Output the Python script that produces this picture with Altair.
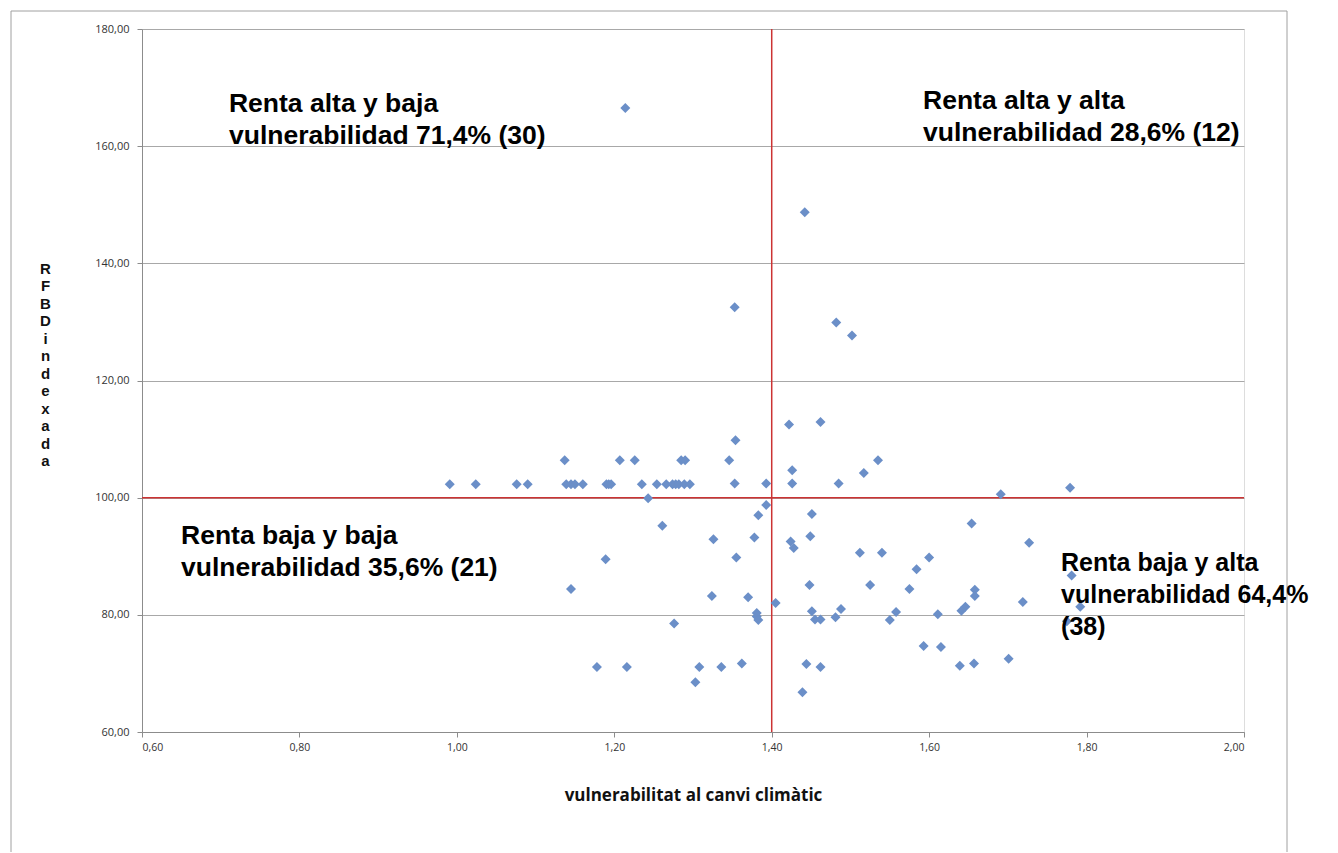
import altair as alt
import pandas as pd

# ---- data ----
vuln = [
    # renta alta / baja vulnerabilidad
    1.214, 1.353, 1.137, 1.207, 1.226, 1.285, 1.290, 1.346, 1.354,
    0.991, 1.024, 1.076, 1.090, 1.139, 1.145, 1.150, 1.160, 1.190, 1.193, 1.196,
    1.235, 1.254, 1.266, 1.274, 1.278, 1.282, 1.289, 1.296, 1.353, 1.393,
    # renta alta / alta vulnerabilidad
    1.442, 1.482, 1.502, 1.422, 1.462, 1.426, 1.535, 1.517, 1.426, 1.485, 1.691, 1.779,
    # renta baja / baja vulnerabilidad
    1.243, 1.393, 1.383, 1.261, 1.326, 1.378, 1.355, 1.189, 1.145, 1.324, 1.370,
    1.381, 1.381, 1.383, 1.276, 1.178, 1.216, 1.308, 1.303, 1.336, 1.362,
    # renta baja / alta vulnerabilidad
    1.405, 1.451, 1.449, 1.424, 1.428, 1.512, 1.540, 1.600, 1.584, 1.575, 1.448,
    1.525, 1.451, 1.455, 1.462, 1.488, 1.481, 1.550, 1.558, 1.611, 1.593, 1.615,
    1.444, 1.462, 1.439, 1.654, 1.727, 1.781, 1.658, 1.658, 1.719, 1.792, 1.775,
    1.646, 1.641, 1.639, 1.657, 1.701,
]
rfbd = [
    166.5, 132.5, 106.4, 106.4, 106.4, 106.4, 106.4, 106.4, 109.8,
    102.3, 102.3, 102.3, 102.3, 102.3, 102.3, 102.3, 102.3, 102.3, 102.3, 102.3,
    102.3, 102.3, 102.3, 102.3, 102.3, 102.3, 102.3, 102.3, 102.4, 102.4,
    148.7, 129.9, 127.7, 112.5, 112.9, 104.7, 106.4, 104.2, 102.4, 102.4, 100.6, 101.7,
    99.9, 98.75, 97.0, 95.2, 92.9, 93.2, 89.8, 89.5, 84.4, 83.2, 83.0,
    80.3, 79.7, 79.1, 78.5, 71.1, 71.1, 71.1, 68.5, 71.1, 71.7,
    82.0, 97.2, 93.4, 92.5, 91.4, 90.6, 90.6, 89.8, 87.8, 84.4, 85.1,
    85.1, 80.6, 79.2, 79.2, 81.0, 79.6, 79.1, 80.5, 80.1, 74.7, 74.5,
    71.6, 71.1, 66.8, 95.6, 92.3, 86.7, 84.3, 83.2, 82.2, 81.4, 78.9,
    81.4, 80.7, 71.3, 71.7, 72.5,
]

x_ticks = [0.6, 0.8, 1.0, 1.2, 1.4, 1.6, 1.8, 2.0]
y_ticks = [60, 80, 100, 120, 140, 160, 180]
x_cut = [1.40]
y_cut = [100]

ann_text = [
    "Renta alta y baja\nvulnerabilidad 71,4% (30)",
    "Renta alta y alta\nvulnerabilidad 28,6% (12)",
    "Renta baja y baja\nvulnerabilidad 35,6% (21)",
    "Renta baja y alta\nvulnerabilidad 64,4%\n(38)",
]
ann_x = [0.7105, 1.5922, 0.6496, 1.7676]
ann_y = [165.83, 166.34, 92.09, 87.56]
ann_size = [26.5, 26.5, 26.5, 25]

x_title = "vulnerabilitat al canvi climàtic"
y_title = ["R", "F", "B", "D", "i", "n", "d", "e", "x", "a", "d", "a"]

pts = pd.DataFrame({"v": vuln, "r": rfbd})
ann = pd.DataFrame({"x": ann_x, "y": ann_y, "t": ann_text, "s": ann_size})

fmt = "replace(format(datum.value, '.2f'), '.', ',')"

xscale = alt.Scale(domain=[0.6, 2.0], nice=False, zero=False)
yscale = alt.Scale(domain=[60, 180], nice=False, zero=False)

xaxis = alt.Axis(
    values=x_ticks, labelExpr=fmt, grid=False, title=x_title,
    titleFont="Open Sans", titleFontSize=17, titleFontWeight="bold", titleColor="#111",
    titleY=63, titleBaseline="middle",
    labelFont="Open Sans", labelFontSize=10.5, labelColor="#333", labelPadding=5,
    tickSize=5, domainColor="#8c8c8c", tickColor="#8c8c8c",
)
yaxis = alt.Axis(
    values=y_ticks, labelExpr=fmt, grid=True, gridColor="#a8a8a8", gridWidth=1,
    title=y_title, titleAngle=0, titleX=-97, titleY=239, titleAlign="center",
    titleBaseline="middle", titleFont="Liberation Sans", titleFontSize=15,
    titleFontWeight="bold", titleColor="#111", titleLineHeight=17.5,
    labelFont="Open Sans", labelFontSize=11, labelColor="#333", labelPadding=8,
    tickSize=5, domainColor="#8c8c8c", tickColor="#8c8c8c",
)

base = alt.Chart(pts)

border = alt.Chart(pd.DataFrame({"a": [0]})).mark_rect(
    filled=False, stroke="#a0a0a0", strokeWidth=1, clip=False
).encode(x=alt.value(-131), x2=alt.value(1145), y=alt.value(-18), y2=alt.value(900))

points = base.mark_point(shape="diamond", filled=True, size=100, color="#6b8fc8", opacity=1).encode(
    x=alt.X("v:Q", scale=xscale, axis=xaxis),
    y=alt.Y("r:Q", scale=yscale, axis=yaxis),
)

vrule = alt.Chart(pd.DataFrame({"x": x_cut})).mark_rule(color="#cc3333", strokeWidth=1.5).encode(
    x=alt.X("x:Q", scale=xscale)
)
hrule = alt.Chart(pd.DataFrame({"y": y_cut})).mark_rule(color="#cc3333", strokeWidth=1.5).encode(
    y=alt.Y("y:Q", scale=yscale)
)

texts = alt.Chart(ann).mark_text(
    align="left", baseline="alphabetic", lineBreak="\n", lineHeight=32,
    font="Liberation Sans", fontWeight="bold", color="#000", clip=False,
).encode(
    x=alt.X("x:Q", scale=xscale), y=alt.Y("y:Q", scale=yscale), text="t:N",
    size=alt.Size("s:Q", scale=None, legend=None),
)

chart = alt.layer(border, vrule, hrule, points, texts).properties(
    width=1102, height=703,
    autosize=alt.AutoSizeParams(type="none"),
    padding={"left": 134, "top": 21, "right": 70, "bottom": 120},
).configure_view(stroke=None).configure(background="white")

chart.save("out.html", embed_options={"renderer": "svg", "actions": False})
